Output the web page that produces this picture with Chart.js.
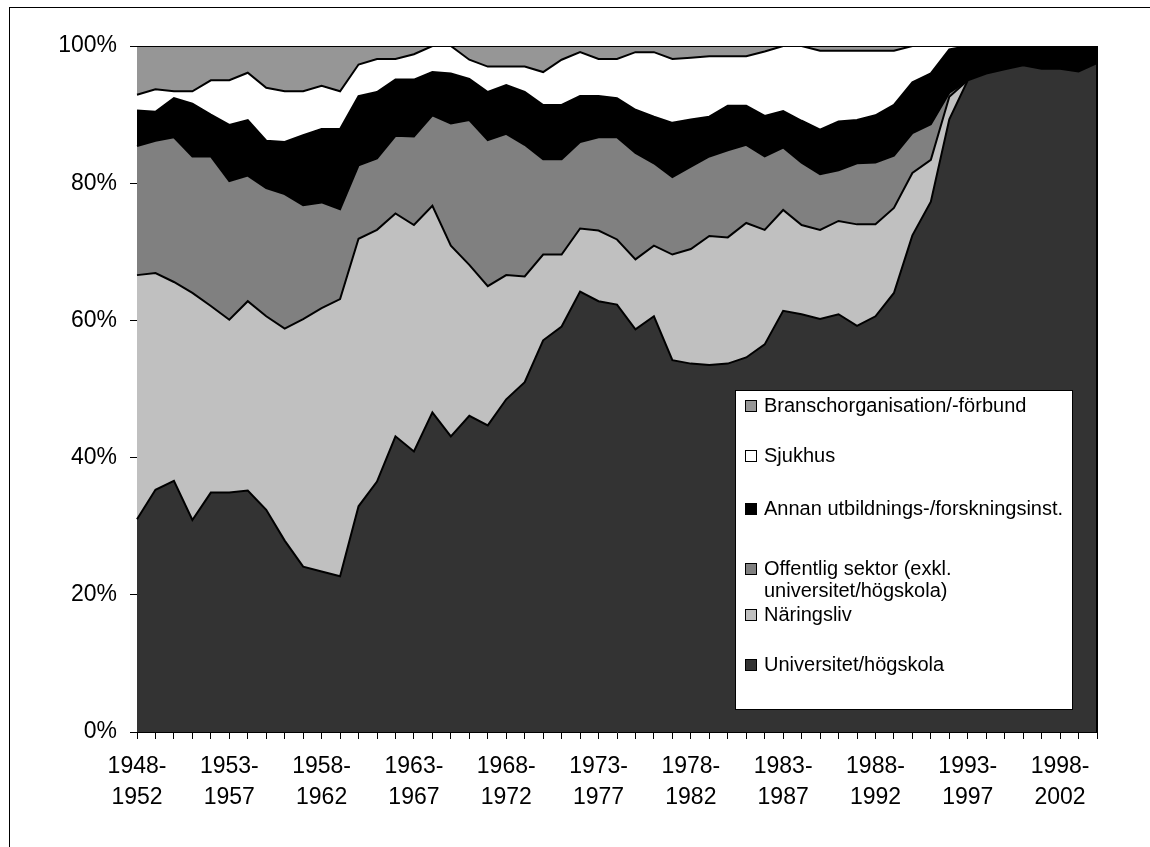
<!DOCTYPE html>
<html>
<head>
<meta charset="utf-8">
<title>Andel per sektor</title>
<script src="https://cdn.jsdelivr.net/npm/chart.js@4.4.1/dist/chart.umd.min.js"></script>
<style>
    html, body { margin: 0; padding: 0; background: #fff; }
    #wrap { position: relative; width: 1150px; height: 847px; }
</style>
</head>
<body>
<div id="wrap"><canvas id="chart"></canvas></div>
<script>
// 5-year periods (x categories)
const periods = [
    "1948-1952", "1949-1953", "1950-1954", "1951-1955", "1952-1956", "1953-1957", "1954-1958", "1955-1959",
    "1956-1960", "1957-1961", "1958-1962", "1959-1963", "1960-1964", "1961-1965", "1962-1966", "1963-1967",
    "1964-1968", "1965-1969", "1966-1970", "1967-1971", "1968-1972", "1969-1973", "1970-1974", "1971-1975",
    "1972-1976", "1973-1977", "1974-1978", "1975-1979", "1976-1980", "1977-1981", "1978-1982", "1979-1983",
    "1980-1984", "1981-1985", "1982-1986", "1983-1987", "1984-1988", "1985-1989", "1986-1990", "1987-1991",
    "1988-1992", "1989-1993", "1990-1994", "1991-1995", "1992-1996", "1993-1997", "1994-1998", "1995-1999",
    "1996-2000", "1997-2001", "1998-2002", "1999-2003", "2000-2004"
];

// shares in percent, bottom to top of the stack
const universitet = [31.0, 35.3, 36.6, 30.9, 34.9, 34.9, 35.2, 32.4, 27.9, 24.1,
    23.4, 22.7, 32.9, 36.5, 43.1, 40.9, 46.6, 43.1, 46.1, 44.7,
    48.5, 51.0, 57.1, 59.1, 64.2, 62.8, 62.3, 58.7, 60.6, 54.2,
    53.7, 53.5, 53.7, 54.6, 56.5, 61.4, 60.9, 60.2, 60.9, 59.2,
    60.6, 64.0, 72.4, 77.3, 89.3, 95.0, 96.0, 96.6, 97.2, 96.7,
    96.7, 96.3, 97.5];
const naringsliv = [35.6, 31.6, 29.0, 33.1, 27.2, 25.2, 27.6, 28.2, 30.9, 36.1,
    38.4, 40.4, 39.0, 36.7, 32.5, 33.0, 30.1, 27.8, 22.0, 20.3,
    18.1, 15.4, 12.5, 10.5, 9.2, 10.3, 9.5, 10.2, 10.3, 15.4,
    16.7, 18.8, 18.4, 19.6, 16.7, 14.7, 13.0, 13.0, 13.6, 14.8,
    13.4, 12.4, 9.1, 6.1, 3.3, 0, 0, 0, 0, 0,
    0, 0, 0];
const offentlig = [18.8, 19.3, 21.1, 19.9, 21.8, 20.2, 18.3, 18.7, 19.6, 16.6,
    15.4, 13.1, 10.7, 10.4, 11.3, 12.9, 13.2, 17.8, 21.1, 21.3,
    20.6, 19.2, 13.9, 13.9, 12.6, 13.6, 14.9, 15.5, 12.0, 11.3,
    12.0, 11.6, 12.7, 11.4, 10.7, 9.1, 9.1, 8.1, 7.4, 8.9,
    9.0, 7.6, 5.8, 5.2, 0.6, 0, 0, 0, 0, 0,
    0, 0, 0];
const annan = [5.2, 4.2, 5.7, 7.7, 6.1, 8.2, 8.1, 6.9, 7.6, 10.2,
    10.7, 11.7, 10.1, 9.7, 8.2, 8.3, 6.3, 7.3, 6.0, 7.0,
    7.1, 7.7, 7.9, 7.9, 6.7, 6.0, 5.7, 6.3, 6.8, 7.9,
    6.9, 5.8, 6.5, 5.7, 5.9, 5.3, 6.1, 6.5, 7.1, 6.3,
    6.9, 7.4, 7.4, 7.4, 6.3, 5.0, 4.0, 3.4, 2.8, 3.3,
    3.3, 3.7, 2.5];
const sjukhus = [2.3, 3.3, 1.0, 1.8, 5.0, 6.5, 6.9, 7.7, 7.4, 6.4,
    6.3, 5.5, 4.6, 4.8, 3.0, 3.7, 3.8, 4.0, 2.8, 3.7,
    2.7, 3.7, 4.8, 6.6, 6.4, 5.4, 5.7, 8.4, 9.4, 9.3,
    9.0, 8.8, 7.2, 7.2, 9.4, 9.5, 10.9, 11.5, 10.3, 10.1,
    9.4, 7.9, 5.3, 4.0, 0.5, 0, 0, 0, 0, 0,
    0, 0, 0];
const bransch = [7.1, 6.3, 6.6, 6.6, 5.0, 5.0, 3.9, 6.1, 6.6, 6.6,
    5.8, 6.6, 2.7, 1.9, 1.9, 1.2, 0, 0, 2.0, 3.0,
    3.0, 3.0, 3.8, 2.0, 0.9, 1.9, 1.9, 0.9, 0.9, 1.9,
    1.7, 1.5, 1.5, 1.5, 0.8, 0, 0, 0.7, 0.7, 0.7,
    0.7, 0.7, 0, 0, 0, 0, 0, 0, 0, 0,
    0, 0, 0];

const yTicks = [0, 20, 40, 60, 80, 100];

const FONT = "'Liberation Sans', Arial, sans-serif";

function areaSet(label, data, color, fill) {
    return {
        label: label,
        data: data,
        backgroundColor: color,
        borderColor: "#000",
        borderWidth: 2,
        fill: fill,
        pointRadius: 0,
        tension: 0
    };
}

/** frame around the whole picture + right edge of plot */
const framePlugin = {
    id: "frame",
    beforeDraw(chart) {
        const c = chart.ctx;
        c.save();
        c.fillStyle = "#fff";
        c.fillRect(0, 0, chart.width, chart.height);
        c.strokeStyle = "#000";
        c.lineWidth = 1;
        c.strokeRect(9.5, 7.5, chart.width + 20, chart.height + 20);
        c.restore();
    },
    afterDatasetsDraw(chart) {
        const a = chart.chartArea;
        const c = chart.ctx;
        c.save();
        c.strokeStyle = "#000";
        c.lineWidth = 2;
        c.beginPath();
        c.moveTo(a.right, a.top);
        c.lineTo(a.right, a.bottom);
        c.stroke();
        c.restore();
    }
};

/** boxed legend inside the plot, reversed order */
const boxLegend = {
    id: "boxLegend",
    afterDraw(chart) {
        const c = chart.ctx;
        const box = { x: 735.5, y: 390.5, w: 337, h: 319 };
        const rows = [406, 456, 509, 569, 615, 665];
        c.save();
        c.fillStyle = "#fff";
        c.fillRect(box.x, box.y, box.w, box.h);
        c.strokeStyle = "#000";
        c.lineWidth = 1;
        c.strokeRect(box.x, box.y, box.w, box.h);
        c.font = "20px " + FONT;
        c.textBaseline = "middle";
        c.textAlign = "left";
        const sets = chart.data.datasets.slice().reverse();
        sets.forEach((ds, k) => {
            const cy = rows[k];
            c.fillStyle = ds.backgroundColor;
            c.fillRect(745.5, cy - 5.5, 11, 11);
            c.strokeStyle = "#000";
            c.strokeRect(745.5, cy - 5.5, 11, 11);
            // simple word wrap
            const words = ds.label.split(" ");
            const lines = [];
            let cur = "";
            words.forEach(w => {
                const t = cur ? cur + " " + w : w;
                if (cur && c.measureText(t).width > 330) { lines.push(cur); cur = w; }
                else cur = t;
            });
            lines.push(cur);
            c.fillStyle = "#000";
            lines.forEach((ln, j) => c.fillText(ln, 764, cy + j * 22));
        });
        c.restore();
    }
};

const chart = new Chart(document.getElementById("chart").getContext("2d"), {
    type: "line",
    data: {
        labels: periods,
        datasets: [
            areaSet("Universitet/högskola", universitet, "#333333", "origin"),
            areaSet("Näringsliv", naringsliv, "#C0C0C0", "-1"),
            areaSet("Offentlig sektor (exkl. universitet/högskola)", offentlig, "#808080", "-1"),
            areaSet("Annan utbildnings-/forskningsinst.", annan, "#000000", "-1"),
            areaSet("Sjukhus", sjukhus, "#FFFFFF", "-1"),
            areaSet("Branschorganisation/-förbund", bransch, "#969696", "-1")
        ]
    },
    options: {
        responsive: true,
        maintainAspectRatio: false,
        animation: false,
        layout: { padding: { top: 46, right: 53, left: 0, bottom: 0 } },
        plugins: { legend: { display: false }, tooltip: { enabled: false } },
        scales: {
            x: {
                offset: false,
                grid: { display: true, drawOnChartArea: false, drawTicks: true, tickLength: 7, tickColor: "#000" },
                border: { display: true, color: "#000", width: 1 },
                ticks: {
                    autoSkip: false, maxRotation: 0, minRotation: 0, padding: 12,
                    color: "#000",
                    font: { family: FONT, size: 23, lineHeight: 1.35 },
                    callback: function (value, index) {
                        if (index % 5 !== 0) return "";
                        const p = this.getLabelForValue(value).split("-");
                        return [p[0] + "-", p[1]];
                    }
                },
                afterFit(scale) { scale.height = 115; }
            },
            y: {
                stacked: true,
                min: 0,
                max: 100,
                afterBuildTicks(scale) { scale.ticks = yTicks.map(v => ({ value: v })); },
                grid: { display: true, drawOnChartArea: false, drawTicks: true, tickLength: 7, tickColor: "#000" },
                border: { display: true, color: "#000", width: 1 },
                ticks: {
                    padding: 13,
                    color: "#000",
                    font: { family: FONT, size: 23 },
                    callback: v => v + "%"
                },
                afterFit(scale) { scale.width = 137; }
            }
        }
    },
    plugins: [framePlugin, boxLegend]
});
</script>
</body>
</html>
